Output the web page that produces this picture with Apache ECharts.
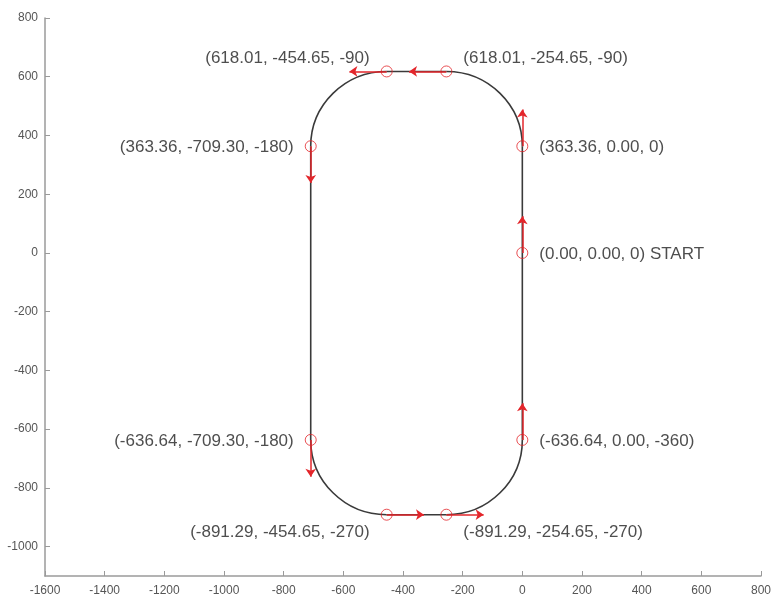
<!DOCTYPE html>
<html>
<head>
<meta charset="utf-8">
<script src="https://cdn.jsdelivr.net/npm/echarts@6/dist/echarts.min.js"></script>
<style>
html,body{margin:0;padding:0;background:#fff;}
#chart{width:774px;height:597px;}
</style>
</head>
<body>
<div id="chart"></div>
<script>
// ---- data (waypoints: label shows (Y, X, heading)) ----
const poseY   = [0.00, 363.36, 618.01, 618.01, 363.36, -636.64, -891.29, -891.29, -636.64];
const poseX   = [0.00, 0.00, -254.65, -454.65, -709.30, -709.30, -454.65, -254.65, 0.00];
const heading = [0, 0, -90, -90, -180, -180, -270, -270, -360];
const labelSuffix = [' START', '', '', '', '', '', '', '', ''];
const xTicks = [-1600, -1400, -1200, -1000, -800, -600, -400, -200, 0, 200, 400, 600, 800];
const yTicks = [-1000, -800, -600, -400, -200, 0, 200, 400, 600, 800];
const ARROW_LEN = 125;

// ---- styles ----
const labelSide = ['right','right','topRight','topLeft','left','left','bottomLeft','bottomRight','right'];
const RED = '#e3262b';
const AXIS = '#9a9a9a';
const TXT = '#222';

function dir(h){ const r = h*Math.PI/180; return [Math.sin(r), Math.cos(r)]; }

const sideStyle = {
  right:       {position:'right', distance:11, offset:[0,1]},
  left:        {position:'left',  distance:11, offset:[0,1]},
  topRight:    {position:'right', distance:11, offset:[0,-13]},
  topLeft:     {position:'left',  distance:11, offset:[0,-13]},
  bottomRight: {position:'right', distance:11, offset:[0,18]},
  bottomLeft:  {position:'left',  distance:11, offset:[0,18]}
};

const markerData = poseX.map((x,i)=>({
  value:[x, poseY[i]],
  label:Object.assign({
    show:true,
    formatter:'(' + poseY[i].toFixed(2) + ', ' + poseX[i].toFixed(2) + ', ' + heading[i] + ')' + labelSuffix[i],
    fontFamily:'Liberation Sans, Arial, sans-serif',
    fontSize:17,
    color:TXT
  }, sideStyle[labelSide[i]])
}));

const arrowData = poseX.map((x,i)=>{
  const d = dir(heading[i]);
  return {coords:[[x, poseY[i]], [x + d[0]*ARROW_LEN, poseY[i] + d[1]*ARROW_LEN]]};
});

function norm(h){ return ((h % 360) + 360) % 360; }

function renderTrack(params, api){
  const n = poseX.length;
  const children = [];
  const K = 0.5523;
  for (let i=0;i<n;i++){
    const j = (i+1)%n;
    const A = api.coord([poseX[i], poseY[i]]);
    const B = api.coord([poseX[j], poseY[j]]);
    const style = {stroke:'#3a3a3a', lineWidth:1.6, fill:null};
    if (norm(heading[i]) === norm(heading[j])){
      children.push({type:'line', shape:{x1:A[0],y1:A[1],x2:B[0],y2:B[1]}, style:style});
    } else {
      const d = dir(heading[i]);
      const cData = Math.abs(d[0]) < 0.5 ? [poseX[i], poseY[j]] : [poseX[j], poseY[i]];
      const C = api.coord(cData);
      children.push({type:'bezierCurve', shape:{
        x1:A[0], y1:A[1], x2:B[0], y2:B[1],
        cpx1:A[0]+K*(C[0]-A[0]), cpy1:A[1]+K*(C[1]-A[1]),
        cpx2:B[0]+K*(C[0]-B[0]), cpy2:B[1]+K*(C[1]-B[1])
      }, style:style});
    }
  }
  return {type:'group', children:children};
}

const plain = v => String(v);

const chart = echarts.init(document.getElementById('chart'));
chart.setOption({
  animation:false,
  backgroundColor:'#fff',
  grid:{left:45, right:11, top:18, bottom:19, containLabel:false},
  xAxis:{
    type:'value', min:-1600, max:800, interval:200,
    axisLine:{show:true, onZero:false, lineStyle:{color:AXIS, width:1.5}},
    axisTick:{show:true, inside:true, length:5, lineStyle:{color:AXIS}},
    axisLabel:{color:'#555', fontSize:12, margin:9, fontFamily:'Liberation Sans, Arial, sans-serif',
      customValues:xTicks, formatter:plain},
    splitLine:{show:false}
  },
  yAxis:{
    type:'value', min:-1100, max:800,
    axisLine:{show:true, onZero:false, lineStyle:{color:AXIS, width:1.5}},
    axisTick:{show:true, inside:true, length:5, lineStyle:{color:AXIS}, customValues:yTicks},
    axisLabel:{color:'#555', fontSize:12, margin:7, fontFamily:'Liberation Sans, Arial, sans-serif',
      customValues:yTicks, formatter:plain},
    splitLine:{show:false}
  },
  series:[
    {
      type:'custom', coordinateSystem:'cartesian2d',
      data:[[0,0]], renderItem:renderTrack, silent:true, z:1
    },
    {
      type:'lines', coordinateSystem:'cartesian2d',
      data:arrowData, symbol:['none','arrow'], symbolSize:[0,8],
      lineStyle:{color:RED, width:1.5, opacity:1}, silent:true, z:3
    },
    {
      type:'scatter', data:markerData, symbol:'circle', symbolSize:11,
      itemStyle:{color:'rgba(0,0,0,0)', borderColor:RED, borderWidth:1},
      silent:true, z:4
    }
  ]
});
</script>
</body>
</html>
